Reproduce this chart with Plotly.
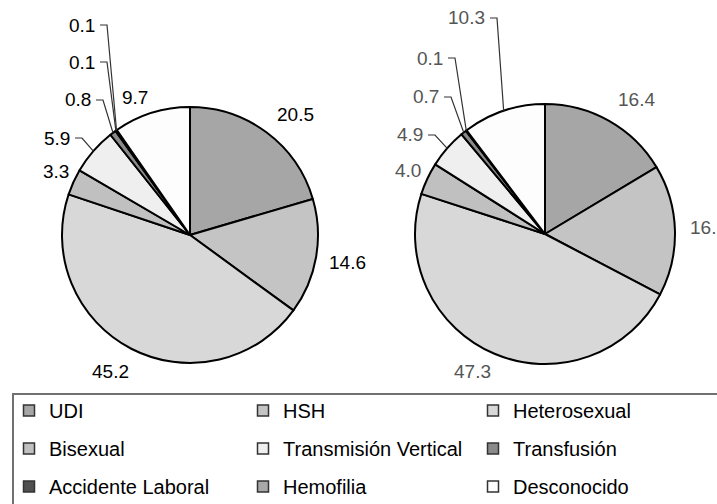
import math
import plotly.graph_objects as go

categories = ["UDI", "HSH", "Heterosexual", "Bisexual", "Transmisión Vertical",
              "Transfusión", "Accidente Laboral", "Hemofilia", "Desconocido"]
values_left = [20.5, 14.6, 45.2, 3.3, 5.9, 0.8, 0.1, 0.1, 9.7]
values_right = [16.4, 16.3, 47.3, 4.0, 4.9, 0.7, 0.1, 0.0, 10.3]
colors = ["#a6a6a6", "#c4c4c4", "#d8d8d8", "#c0c0c0", "#efefef",
          "#8a8a8a", "#505050", "#a8a8a8", "#fdfdfd"]

W, H = 717, 504
OFF = 0  # body margin removed via post_script
FONT = "Arial, Liberation Sans, sans-serif"


def px(x):
    return (x - OFF) / W


def py(y):
    return 1 - (y - OFF) / H


# layout (window px): pie centres / radius, label anchors (x, centre y, xanchor, leader?)
PIES = [
    dict(vals=values_left, cx=190, cy=235, r=128, color="black",
         labels={"UDI": (295, 115, "center", False),
                 "HSH": (347, 262, "center", False),
                 "Heterosexual": (111, 371, "center", False),
                 "Bisexual": (56, 171, "center", False),
                 "Transmisión Vertical": (72, 138, "right", True),
                 "Transfusión": (93, 100, "right", True),
                 "Accidente Laboral": (97, 62, "right", True),
                 "Hemofilia": (97, 25, "right", True),
                 "Desconocido": (135, 98, "center", False)}),
    dict(vals=values_right, cx=545, cy=234, r=130, color="#555555",
         labels={"UDI": (636, 100, "center", False),
                 "HSH": (688, 228, "left", False),
                 "Heterosexual": (472, 371, "center", False),
                 "Bisexual": (408, 170, "center", False),
                 "Transmisión Vertical": (425, 135, "right", True),
                 "Transfusión": (441, 97, "right", True),
                 "Accidente Laboral": (445, 58, "right", True),
                 "Desconocido": (487, 18, "right", True)}),
]

fig = go.Figure()
annotations, shapes = [], []
for p in PIES:
    vals, cx, cy, r = p["vals"], p["cx"], p["cy"], p["r"]
    dom = dict(x=[px(cx - r), px(cx + r)], y=[py(cy + r), py(cy - r)])
    fig.add_trace(go.Pie(
        labels=categories, values=vals, sort=False, direction="clockwise",
        rotation=0, domain=dom, showlegend=False, textinfo="none",
        marker=dict(colors=colors, line=dict(color="black", width=2)),
        hoverinfo="label+value",
    ))
    total = sum(vals)
    cum = 0.0
    for c, v in zip(categories, vals):
        mid = 2 * math.pi * (cum + v / 2) / total
        cum += v
        if c not in p["labels"] or v <= 0:
            continue
        lx, ly, anchor, leader = p["labels"][c]
        annotations.append(dict(
            x=px(lx), y=py(ly), xref="paper", yref="paper",
            xanchor=anchor, yanchor="middle", showarrow=False,
            text=f"{v:.1f}", font=dict(family=FONT, size=19, color=p["color"])))
        if leader:
            ex = cx + r * math.sin(mid)
            ey = cy - r * math.cos(mid)
            pts = [(lx + 3, ly), (lx + 10, ly), (ex, ey)]
            path = "M " + " L ".join(f"{px(x)},{py(y)}" for x, y in pts)
            shapes.append(dict(type="path", xref="paper", yref="paper",
                               path=path, line=dict(color="#333333", width=1.2)))

legend_names = ["legend", "legend2", "legend3"]
for i, (name, col) in enumerate(zip(categories, colors)):
    fig.add_trace(go.Scatter(
        x=[None], y=[None], mode="markers", name=name,
        marker=dict(symbol="square", size=11, color=col,
                    line=dict(color="#333333", width=1.5)),
        legend=legend_names[i % 3], legendgroup=name,
    ))

shapes.append(dict(type="rect", xref="paper", yref="paper",
                   x0=px(13), x1=1.05, y0=-0.05, y1=py(394),
                   line=dict(color="#707070", width=2)))

leg_common = dict(orientation="v", xanchor="left", yanchor="top",
                  font=dict(family=FONT, size=20, color="black"),
                  bgcolor="rgba(0,0,0,0)", tracegroupgap=9,
                  itemclick=False, itemdoubleclick=False)
LEG_TOP = 391
fig.update_layout(
    width=W, height=H,
    margin=dict(l=0, r=0, t=0, b=0, autoexpand=False),
    paper_bgcolor="white", plot_bgcolor="white",
    xaxis=dict(visible=False), yaxis=dict(visible=False),
    legend=dict(x=px(9), y=py(LEG_TOP), **leg_common),
    legend2=dict(x=px(243), y=py(LEG_TOP), **leg_common),
    legend3=dict(x=px(473), y=py(LEG_TOP), **leg_common),
    shapes=shapes, annotations=annotations,
)

fig.write_html(
    "out.html",
    config={"displayModeBar": False},
    post_script="document.body.style.margin='0';"
                "document.documentElement.style.overflow='hidden';",
)
